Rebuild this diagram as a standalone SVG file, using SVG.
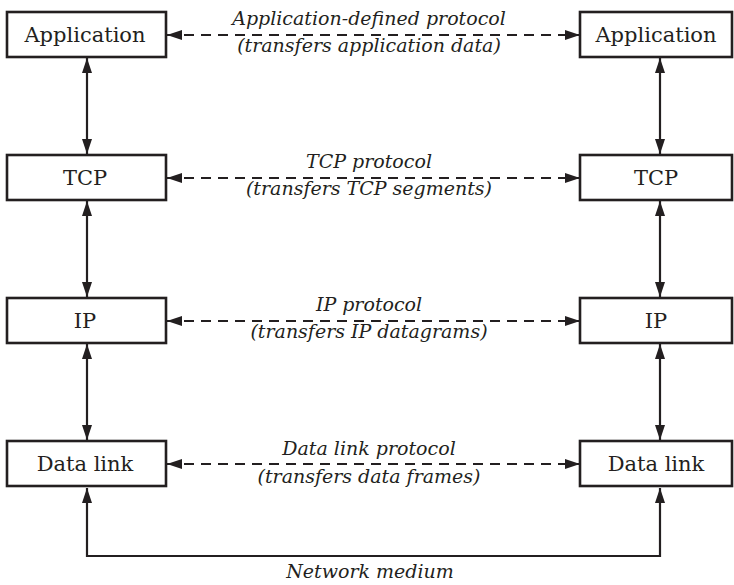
<svg xmlns="http://www.w3.org/2000/svg" width="734" height="585" viewBox="0 0 734 585">
<defs>
<style>
.box{fill:#fff;stroke:#231f20;stroke-width:2.6}
.lbl{font-family:"DejaVu Serif",serif;font-size:21px;fill:#231f20;text-anchor:middle}
.it{font-family:"DejaVu Serif",serif;font-style:italic;font-size:19px;fill:#231f20;text-anchor:middle}
.solid{fill:none;stroke:#231f20;stroke-width:2.2}
.dash{fill:none;stroke:#231f20;stroke-width:2.2;stroke-dasharray:10 7}
</style>
<marker id="ah" viewBox="0 0 15 10" refX="15" refY="5" markerWidth="15" markerHeight="10" orient="auto-start-reverse" markerUnits="userSpaceOnUse">
<path d="M0,0 L15,5 L0,10 z" fill="#231f20"/>
</marker>
</defs>
<rect width="734" height="585" fill="#fff"/>
<g id="connectors">
<path class="dash" d="M167,35 H580" marker-start="url(#ah)" marker-end="url(#ah)"/>
<path class="dash" d="M167,178 H580" marker-start="url(#ah)" marker-end="url(#ah)"/>
<path class="dash" d="M167,321 H580" marker-start="url(#ah)" marker-end="url(#ah)"/>
<path class="dash" d="M167,464 H580" marker-start="url(#ah)" marker-end="url(#ah)"/>
<path class="solid" d="M87,58 V154" marker-start="url(#ah)" marker-end="url(#ah)"/>
<path class="solid" d="M87,201 V297" marker-start="url(#ah)" marker-end="url(#ah)"/>
<path class="solid" d="M87,344 V440" marker-start="url(#ah)" marker-end="url(#ah)"/>
<path class="solid" d="M660,58 V154" marker-start="url(#ah)" marker-end="url(#ah)"/>
<path class="solid" d="M660,201 V297" marker-start="url(#ah)" marker-end="url(#ah)"/>
<path class="solid" d="M660,344 V440" marker-start="url(#ah)" marker-end="url(#ah)"/>
<path class="solid" d="M87,488 V556 H660 V488" marker-start="url(#ah)" marker-end="url(#ah)"/>
<text class="it" x="369" y="25">Application-defined protocol</text>
<text class="it" x="369" y="52">(transfers application data)</text>
<text class="it" x="369" y="168">TCP protocol</text>
<text class="it" x="369" y="195">(transfers TCP segments)</text>
<text class="it" x="369" y="311">IP protocol</text>
<text class="it" x="369" y="338">(transfers IP datagrams)</text>
<text class="it" x="369" y="455">Data link protocol</text>
<text class="it" x="369" y="483">(transfers data frames)</text>
<text class="it" x="370" y="578">Network medium</text>
</g>
<g id="app-left"><rect class="box" x="7" y="12" width="159" height="45"/><text class="lbl" x="85" y="42">Application</text></g>
<g id="app-right"><rect class="box" x="580" y="12" width="152" height="45"/><text class="lbl" x="656" y="42">Application</text></g>
<g id="tcp-left"><rect class="box" x="7" y="155" width="159" height="45"/><text class="lbl" x="85" y="185">TCP</text></g>
<g id="tcp-right"><rect class="box" x="580" y="155" width="152" height="45"/><text class="lbl" x="656" y="185">TCP</text></g>
<g id="ip-left"><rect class="box" x="7" y="298" width="159" height="45"/><text class="lbl" x="85" y="328">IP</text></g>
<g id="ip-right"><rect class="box" x="580" y="298" width="152" height="45"/><text class="lbl" x="656" y="328">IP</text></g>
<g id="dl-left"><rect class="box" x="7" y="441" width="159" height="45"/><text class="lbl" x="85" y="471">Data link</text></g>
<g id="dl-right"><rect class="box" x="580" y="441" width="152" height="45"/><text class="lbl" x="656" y="471">Data link</text></g>
</svg>
